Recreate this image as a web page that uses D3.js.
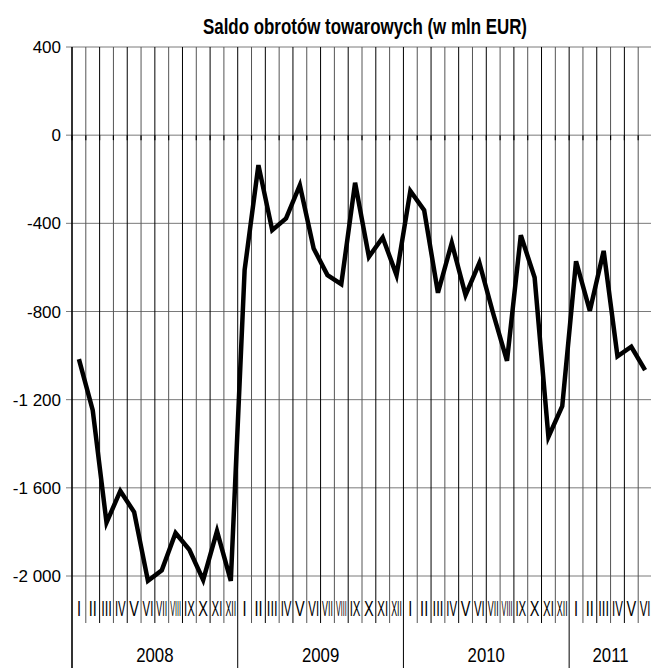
<!DOCTYPE html>
<html>
<head>
<meta charset="utf-8">
<script src="https://cdn.jsdelivr.net/npm/d3@7/dist/d3.min.js"></script>
<style>
html,body{margin:0;padding:0;background:#fff;}
svg{display:block;}
text{font-family:"Liberation Sans",Arial,sans-serif;fill:#000;}
</style>
</head>
<body>
<svg id="chart" width="651" height="668"></svg>
<script>
const title = "Saldo obrotów towarowych (w mln EUR)";
const years = ["2008", "2009", "2010", "2011"];
const monthsPerYear = [12, 12, 12, 6];
const monthNames = ["I","II","III","IV","V","VI","VII","VIII","IX","X","XI","XII"];
const yTicks = [400, 0, -400, -800, -1200, -1600, -2000];
const values2008 = [-1016, -1248, -1758, -1614, -1710, -2022, -1974, -1805, -1881, -2018, -1796, -2022];
const values2009 = [-612, -136, -431, -378, -227, -514, -635, -676, -216, -552, -464, -635];
const values2010 = [-253, -340, -715, -489, -726, -579, -809, -1024, -454, -646, -1369, -1230];
const values2011 = [-572, -797, -525, -1003, -960, -1066];

const series = [values2008, values2009, values2010, values2011];
const data = [];
years.forEach((yr, yi) => {
  for (let m = 0; m < monthsPerYear[yi]; m++) {
    data.push({year: yr, month: monthNames[m], value: series[yi][m], key: yr + "-" + m});
  }
});

const svg = d3.select("#chart");
const plotLeft = 72, plotRight = 652, plotTop = 47, plotBottom = 576, monthBottom = 623, yearBottom = 668;

const x = d3.scaleBand().domain(data.map(d => d.key)).range([plotLeft, plotRight]).padding(0);
const y = d3.scaleLinear().domain([-2000, 400]).range([plotBottom, plotTop]);
const bw = x.bandwidth();

// horizontal gridlines + left ticks
svg.append("g").selectAll("line").data(yTicks).join("line")
  .attr("x1", plotLeft - 6).attr("x2", 651)
  .attr("y1", d => y(d)).attr("y2", d => y(d))
  .attr("stroke", "#7a7a7a").attr("stroke-width", 1);

// vertical lines at band edges
const edges = d3.range(data.length + 1).map(i => plotLeft + i * bw);
const yearStarts = [];
let acc = 0;
monthsPerYear.forEach(n => { yearStarts.push(acc); acc += n; });
svg.append("g").selectAll("line").data(edges).join("line")
  .attr("x1", d => d).attr("x2", d => d)
  .attr("y1", plotTop)
  .attr("y2", (d, i) => yearStarts.includes(i) ? yearBottom : monthBottom)
  .attr("stroke", (d, i) => i % 2 ? "#555" : "#000").attr("stroke-width", 1);

// small ticks at the 0 axis
svg.append("g").selectAll("line").data(edges).join("line")
  .attr("x1", d => d).attr("x2", d => d)
  .attr("y1", y(0)).attr("y2", y(0) + 5)
  .attr("stroke", "#000").attr("stroke-width", 1.2);

// y axis line
svg.append("line").attr("x1", plotLeft).attr("x2", plotLeft).attr("y1", plotTop).attr("y2", yearBottom)
  .attr("stroke", "#000").attr("stroke-width", 1.2);

// y labels
const fmt = v => {
  const s = Math.abs(v).toString().replace(/\B(?=(\d{3})+(?!\d))/g, " ");
  return (v < 0 ? "-" : "") + s;
};
svg.append("g").selectAll("text").data(yTicks).join("text")
  .attr("x", 61).attr("y", d => y(d) + 6)
  .attr("text-anchor", "end")
  .attr("font-size", 17)
  .text(fmt);

// month labels (horizontally condensed)
const mScale = 0.66;
svg.append("g").selectAll("text").data(data).join("text")
  .attr("text-anchor", "middle")
  .attr("font-size", 22)
  .text(d => d.month)
  .each(function(d) {
    const w = this.getComputedTextLength();
    const s = Math.min(mScale, (bw - 3) / w);
    d3.select(this).attr("transform", `translate(${x(d.key) + bw / 2},616) scale(${s},1)`);
  });

// year labels
svg.append("g").selectAll("text").data(years).join("text")
  .attr("transform", (d, i) => {
    const a = edges[yearStarts[i]];
    const b = edges[yearStarts[i] + monthsPerYear[i]];
    return `translate(${(a + b) / 2},662) scale(0.84,1)`;
  })
  .attr("text-anchor", "middle")
  .attr("font-size", 20)
  .text(d => d);

// title
svg.append("text")
  .attr("x", 365).attr("y", 34)
  .attr("text-anchor", "middle")
  .attr("font-size", 22)
  .attr("font-weight", "bold")
  .attr("textLength", 324)
  .attr("lengthAdjust", "spacingAndGlyphs")
  .text(title);

// data line
const line = d3.line().x(d => x(d.key) + bw / 2).y(d => y(d.value));
svg.append("path").datum(data)
  .attr("d", line)
  .attr("fill", "none")
  .attr("stroke", "#000")
  .attr("stroke-width", 4.5)
  .attr("stroke-linejoin", "miter")
  .attr("stroke-miterlimit", 4);
</script>
</body>
</html>
